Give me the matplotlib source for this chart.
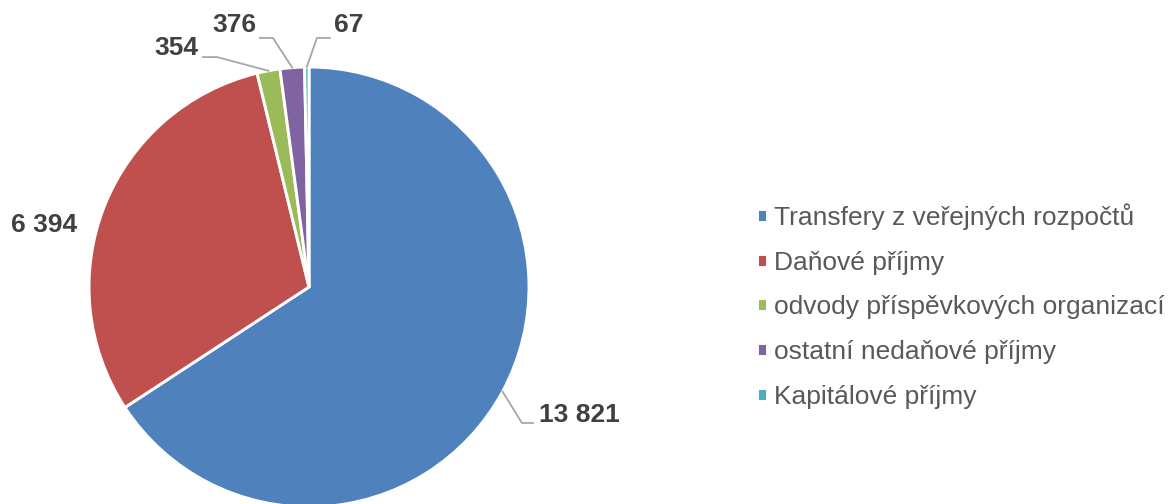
import numpy as np
import matplotlib.pyplot as plt

plt.rcParams['font.family'] = ['Liberation Sans', 'DejaVu Sans']

# Data
categories = ['Transfery z veřejných rozpočtů', 'Daňové příjmy',
              'odvody příspěvkových organizací', 'ostatní nedaňové příjmy',
              'Kapitálové příjmy']
values = [13821, 6394, 354, 376, 67]
value_labels = ['13 821', '6 394', '354', '376', '67']
colors = ['#4F81BD', '#C0504D', '#9BBB59', '#8064A2', '#4BACC6']

# label layout (text pos, elbow, line end) in pie radius units
label_pos = [(1.045, -0.582), (-1.055, 0.282), (-0.505, 1.086), (-0.241, 1.191), (0.114, 1.191)]
label_ha = ['left', 'right', 'right', 'right', 'left']
elbow = [(0.968, -0.618), None, (-0.418, 1.045), (-0.164, 1.132), (0.036, 1.132)]
line_end = [(1.018, -0.618), None, (-0.482, 1.045), (-0.223, 1.132), (0.095, 1.132)]

W, H = 1170, 504
fig = plt.figure(figsize=(W / 100, H / 100), dpi=100)
# pie centre (309, 287) px, radius 220 px
ax = fig.add_axes([89 / W, (H - 507) / H, 440 / W, 440 / H])
wedges, _ = ax.pie(values, colors=colors, startangle=90, counterclock=False,
                   radius=1, wedgeprops=dict(edgecolor='white', linewidth=2.1))
ax.set_xlim(-1, 1)
ax.set_ylim(-1, 1)
ax.set_aspect('auto')
ax.axis('off')

for i, w in enumerate(wedges):
    mid = np.radians((w.theta1 + w.theta2) / 2)
    ax.text(label_pos[i][0], label_pos[i][1], value_labels[i], ha=label_ha[i], va='center',
            fontsize=19, fontweight='bold', color='#404040', clip_on=False)
    if elbow[i] is not None:
        px, py = np.cos(mid), np.sin(mid)
        ax.plot([px, elbow[i][0], line_end[i][0]], [py, elbow[i][1], line_end[i][1]],
                color='#A6A6A6', lw=1.3, clip_on=False, solid_joinstyle='miter')

leg = fig.legend(wedges, categories, loc='center left', bbox_to_anchor=(746 / W, 1 - 306 / H),
                 frameon=False, fontsize=19, handlelength=0.38, handleheight=0.38,
                 handletextpad=0.3, labelspacing=0.78, borderaxespad=0)
for t in leg.get_texts():
    t.set_color('#595959')

fig.savefig('out.png', dpi=100)
